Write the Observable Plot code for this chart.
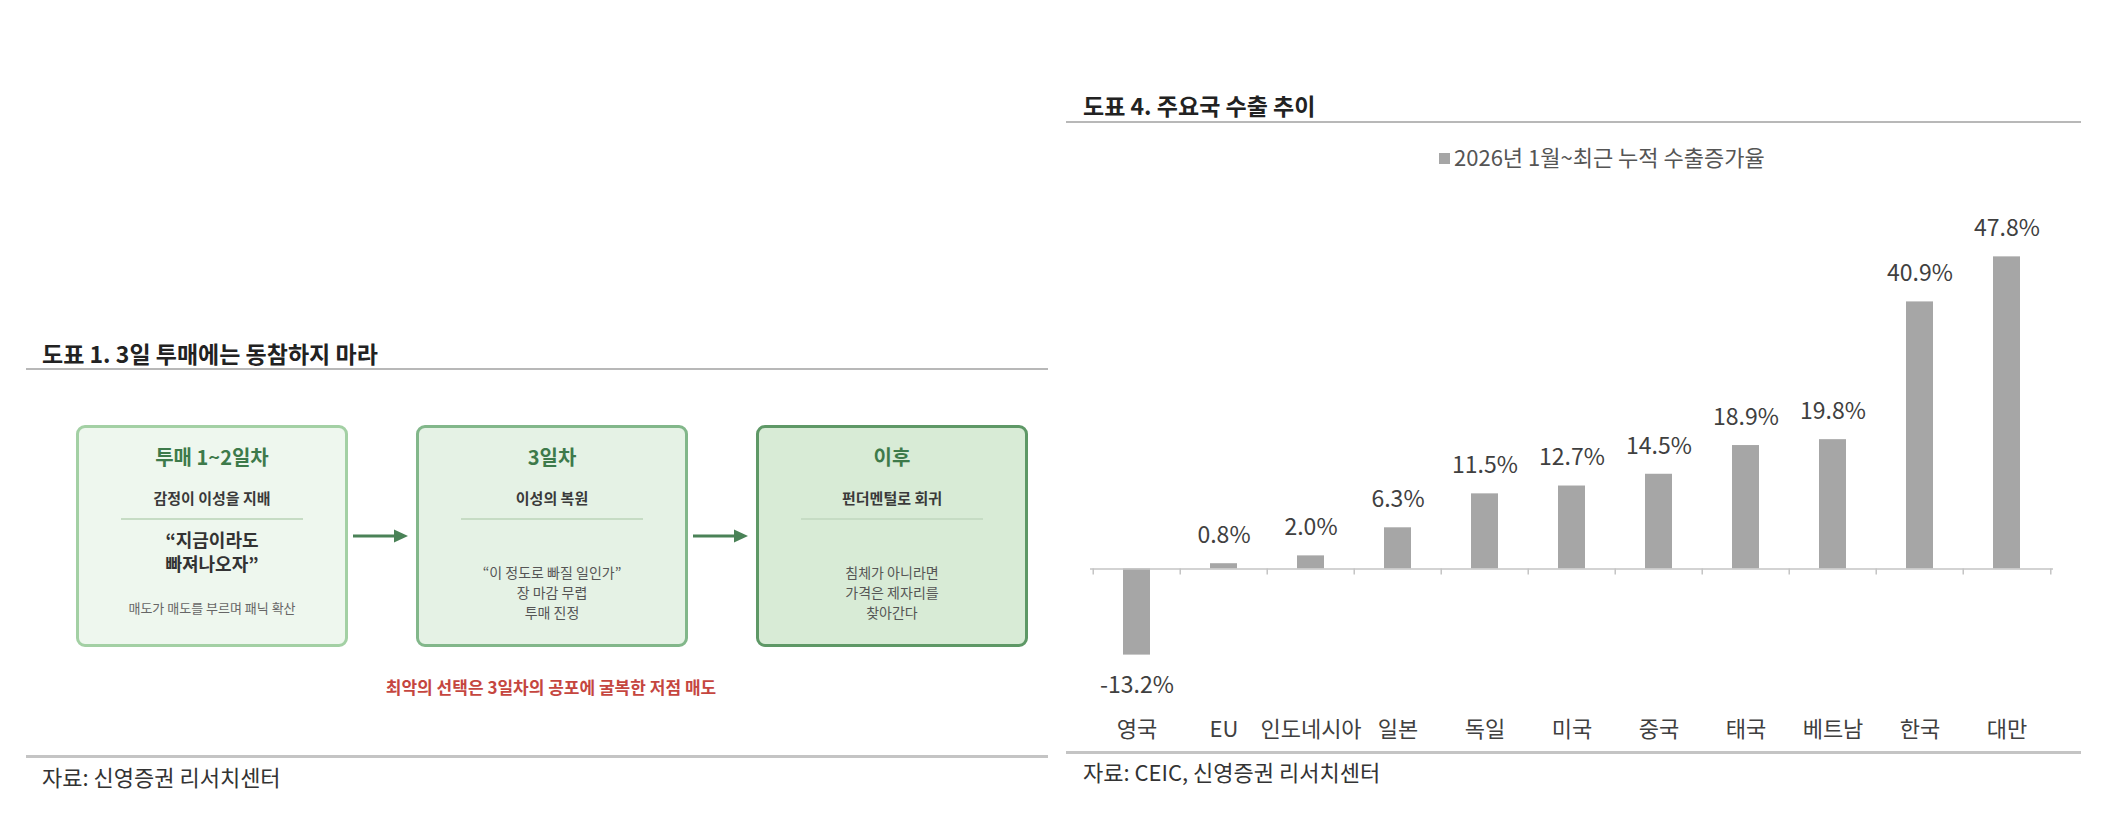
<!DOCTYPE html>
<html>
<head>
<meta charset="utf-8">
<script src="https://cdn.jsdelivr.net/npm/d3@7"></script>
<script src="https://cdn.jsdelivr.net/npm/@observablehq/plot@0.6"></script>
<style>
  body { margin: 0; background: #fff; font-family: "Noto Sans CJK KR", "Noto Sans", sans-serif; }
  #root { position: relative; width: 2109px; height: 826px; overflow: hidden; background: #fff; }
  .abs { position: absolute; white-space: nowrap; }
  .title { font-weight: 700; font-size: 23px; color: #222; line-height: 30px; }
  .rule { position: absolute; height: 2px; background: #b8b8b8; }
  .rule.bottom { height: 3px; background: #c4c4c4; }
  .source { font-size: 22px; color: #333; line-height: 28px; }
  .box { position: absolute; box-sizing: border-box; border-radius: 9px; border: 3px solid; }
  .line { position: absolute; left: 0; width: 100%; text-align: center; white-space: nowrap; }
</style>
</head>
<body>
<div id="root"></div>
<script>
// ---------- data ----------
const diagramTitle = "도표 1. 3일 투매에는 동참하지 마라";
const stageTitles = ["투매 1~2일차", "3일차", "이후"];
const stageHeads = ["감정이 이성을 지배", "이성의 복원", "펀더멘털로 회귀"];
const stageQuotes = [["“지금이라도", "빠져나오자”"], [], []];
const stageNotes = [
  ["매도가 매도를 부르며 패닉 확산"],
  ["“이 정도로 빠질 일인가”", "장 마감 무렵", "투매 진정"],
  ["침체가 아니라면", "가격은 제자리를", "찾아간다"]
];
const warningText = "최악의 선택은 3일차의 공포에 굴복한 저점 매도";
const sourceLeft = "자료: 신영증권 리서치센터";

const chartTitle = "도표 4. 주요국 수출 추이";
const seriesName = "2026년 1월~최근 누적 수출증가율";
const countries = ["영국", "EU", "인도네시아", "일본", "독일", "미국", "중국", "태국", "베트남", "한국", "대만"];
const exportGrowth = [-13.2, 0.8, 2.0, 6.3, 11.5, 12.7, 14.5, 18.9, 19.8, 40.9, 47.8];
const sourceRight = "자료: CEIC, 신영증권 리서치센터";

// ---------- helpers ----------
const root = document.getElementById("root");
function add(parent, cls, style, text) {
  const d = document.createElement("div");
  if (cls) d.className = cls;
  Object.assign(d.style, style || {});
  if (text != null) d.textContent = text;
  parent.appendChild(d);
  return d;
}
function centeredLine(parent, cy, text, style) {
  const lh = 26;
  return add(parent, "line", Object.assign({ top: (cy - lh / 2) + "px", lineHeight: lh + "px" }, style), text);
}

// ---------- left panel: diagram ----------
add(root, "abs title", { left: "42px", top: (353 - 15) + "px" }, diagramTitle);
add(root, "rule", { left: "26px", width: "1022px", top: "368px" });

const boxStyles = [
  { fill: "#eef7ee", stroke: "#a3d0a4" },
  { fill: "#e5f2e5", stroke: "#82b78a" },
  { fill: "#d8ebd6", stroke: "#5e9866" }
];
const boxLeft0 = 76, boxW = 272, boxStep = 340, boxTop = 425, boxH = 222;

stageTitles.forEach((t, i) => {
  const b = add(root, "box", {
    left: (boxLeft0 + i * boxStep) + "px", top: boxTop + "px",
    width: boxW + "px", height: boxH + "px",
    background: boxStyles[i].fill, borderColor: boxStyles[i].stroke
  });
  const off = -3; // border offset
  centeredLine(b, 32 + off, t, { fontSize: "20px", fontWeight: 700, color: "#3d7a4a" });
  centeredLine(b, 73 + off, stageHeads[i], { fontSize: "15px", fontWeight: 700, color: "#3a3a3a" });
  add(b, null, { position: "absolute", left: "42px", right: "42px", top: (93 + off) + "px", height: "2px", background: "#c6dcc4" });
  stageQuotes[i].forEach((q, k) => {
    centeredLine(b, 114 + k * 24 + off, q, { fontSize: "18px", fontWeight: 700, color: "#333" });
  });
  if (stageQuotes[i].length) {
    stageNotes[i].forEach((n, k) => centeredLine(b, 183 + k * 20 + off, n, { fontSize: "13px", color: "#666" }));
  } else {
    stageNotes[i].forEach((n, k) => centeredLine(b, 147 + k * 20 + off, n, { fontSize: "14px", color: "#555" }));
  }
  if (i < stageTitles.length - 1) {
    const x0 = boxLeft0 + i * boxStep + boxW + 5;
    const x1 = boxLeft0 + (i + 1) * boxStep - 8;
    const svgNS = "http://www.w3.org/2000/svg";
    const s = document.createElementNS(svgNS, "svg");
    s.setAttribute("width", x1 - x0 + 2);
    s.setAttribute("height", 20);
    s.style.position = "absolute";
    s.style.left = x0 + "px";
    s.style.top = (536 - 10) + "px";
    const L = x1 - x0;
    s.innerHTML = `<line x1="0" y1="10" x2="${L - 12}" y2="10" stroke="#4a8257" stroke-width="3"/>` +
      `<path d="M${L - 14},3.5 L${L},10 L${L - 14},16.5 Z" fill="#4a8257"/>`;
    root.appendChild(s);
  }
});

add(root, "abs", { left: "0px", width: "1102px", top: (687 - 13) + "px", lineHeight: "26px", textAlign: "center",
  fontSize: "17px", fontWeight: 700, color: "#c5463f" }, warningText);

add(root, "rule bottom", { left: "26px", width: "1022px", top: "755px" });
add(root, "abs source", { left: "42px", top: (776 - 14) + "px" }, sourceLeft);

// ---------- right panel: bar chart ----------
add(root, "abs title", { left: "1083px", top: (105 - 15) + "px" }, chartTitle);
add(root, "rule", { left: "1066px", width: "1015px", top: "121px" });

const legend = add(root, "abs", { left: "1439px", top: (156 - 14) + "px", lineHeight: "28px", fontSize: "22px", color: "#555" });
add(legend, null, { display: "inline-block", width: "11px", height: "11px", background: "#a6a6a6", marginRight: "4px", verticalAlign: "2px" });
legend.appendChild(document.createTextNode(seriesName));

const data = countries.map((c, i) => ({ country: c, value: exportGrowth[i] }));
const W = 1020, H = 570, mL = 28, mR = 29, mT = 62, mB = 51;
const step = (W - mL - mR) / countries.length;
const boundaries = countries.map((c) => ({ c, side: -1 })).concat([{ c: countries[countries.length - 1], side: 1 }]);

const chart = Plot.plot({
  width: W, height: H,
  marginLeft: mL, marginRight: mR, marginTop: mT, marginBottom: mB,
  style: { fontFamily: "'Noto Sans CJK KR', sans-serif", fontSize: "22px", color: "#404040", background: "transparent", overflow: "visible" },
  x: { domain: countries, paddingInner: 0.69, paddingOuter: 0.345 },
  y: { domain: [-20, 50], axis: null },
  marks: [
    Plot.barY(data, { x: "country", y: "value", fill: "#a6a6a6" }),
    Plot.ruleY([0], { stroke: "#c4c4c4", strokeWidth: 1.5 }),
    Plot.ruleX(boundaries.filter(d => d.side < 0), { x: "c", y1: 0, y2: 0, dx: -step / 2, insetBottom: -6, stroke: "#c4c4c4", strokeWidth: 1.5 }),
    Plot.ruleX(boundaries.filter(d => d.side > 0), { x: "c", y1: 0, y2: 0, dx: step / 2, insetBottom: -6, stroke: "#c4c4c4", strokeWidth: 1.5 }),
    Plot.text(data.filter(d => d.value >= 0), { x: "country", y: "value", text: d => d.value.toFixed(1) + "%", dy: -28, fill: "#404040", fontSize: 23 }),
    Plot.text(data.filter(d => d.value < 0), { x: "country", y: "value", text: d => d.value.toFixed(1) + "%", dy: 31, fill: "#404040", fontSize: 23 }),
    Plot.axisX({ anchor: "bottom", tickSize: 0, tickPadding: 22, label: null, fontSize: 22, fill: "#404040" })
  ]
});
chart.style.position = "absolute";
chart.style.left = "1062px";
chart.style.top = "180px";
root.appendChild(chart);

add(root, "rule bottom", { left: "1066px", width: "1015px", top: "751px" });
add(root, "abs source", { left: "1083px", top: (771 - 14) + "px" }, sourceRight);
</script>
</body>
</html>
